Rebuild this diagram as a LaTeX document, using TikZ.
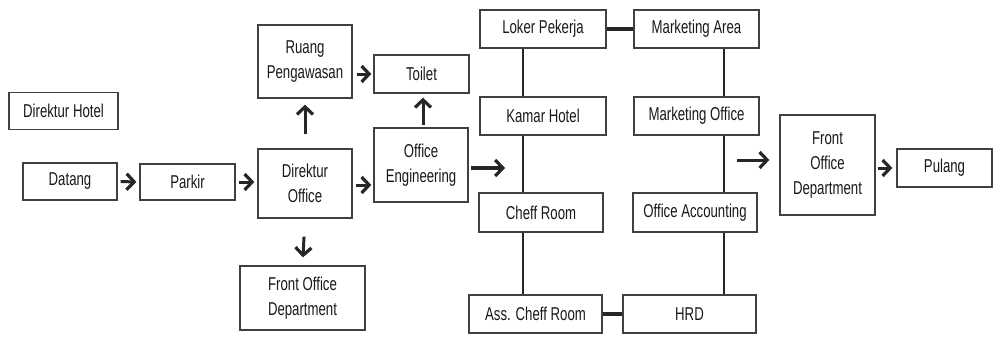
\documentclass[tikz,border=0pt]{standalone}
\usepackage{fontspec}
\setmainfont[FakeStretch=0.71]{Liberation Sans}
\usetikzlibrary{arrows.meta}

\begin{document}
\begin{tikzpicture}[x=0.5pt,y=-0.5pt]
		\tikzstyle{every node}=[font=\fontsize{9.3}{12.5}\selectfont, text=black!90]
		\tikzstyle{room}=[draw=black!75, line width=0.65pt, fill=white, align=center, inner sep=0pt]
		\tikzstyle{flow}=[-{Straight Barb[length=3.8pt,width=8pt,line width=1.6pt]}, line width=1.5pt, color=black!85]
		\tikzstyle{link}=[line width=0.9pt, color=black!85]
		\tikzstyle{joint}=[line width=1.8pt, color=black!85]

\useasboundingbox (0,0) rectangle (994,338);

% left part
\node[room,minimum width=54.5pt,minimum height=18.5pt] at (63.5,111) (dirhotel) {Direktur Hotel};
\node[room,minimum width=47pt,minimum height=18.5pt] at (70,181.5) (datang) {Datang};
\node[room,minimum width=47.5pt,minimum height=18pt] at (187.5,182) (parkir) {Parkir};
\node[room,minimum width=47pt,minimum height=34.5pt] at (305,183.5) (diroffice) {Direktur\\Office};
\node[room,minimum width=62.5pt,minimum height=32pt] at (302.5,298) (fodbottom) {Front Office\\Department};
\node[room,minimum width=47pt,minimum height=36.5pt] at (305,61.5) (ruang) {Ruang\\Pengawasan};
\node[room,minimum width=47.5pt,minimum height=19pt] at (421.5,74) (toilet) {Toilet};
\node[room,minimum width=47pt,minimum height=37pt] at (421,165) (offeng) {Office\\Engineering};

% the two columns
\coordinate (spineL) at (523,168);
\coordinate (spineR) at (724,160);

\node[room,minimum width=63pt,minimum height=19pt] at (543,29) (loker) {Loker Pekerja};
\node[room,minimum width=62.5pt,minimum height=19pt] at (696.5,29) (mktarea) {Marketing Area};
\node[room,minimum width=63pt,minimum height=19pt] at (543,116) (kamar) {Kamar Hotel};
\node[room,minimum width=62.5pt,minimum height=19pt] at (696.5,116) (mktoffice) {Marketing Office};
\node[room,minimum width=62pt,minimum height=19.5pt] at (541,212.5) (cheff) {Cheff Room};
\node[room,minimum width=62pt,minimum height=19.5pt] at (695,212.5) (accounting) {Office Accounting};
\node[room,minimum width=66.5pt,minimum height=19pt] at (535.5,314) (asscheff) {Ass. Cheff Room};
\node[room,minimum width=66.5pt,minimum height=19pt] at (689.5,314) (hrd) {HRD};

% right part
\node[room,minimum width=47.5pt,minimum height=50pt] at (827.5,165) (fodright) {Front\\Office\\Department};
\node[room,minimum width=47.5pt,minimum height=19pt] at (944.5,168) (pulang) {Pulang};

\draw[link] (loker.south -| spineL) -- (kamar.north -| spineL);
\draw[link] (kamar.south -| spineL) -- (cheff.north -| spineL);
\draw[link] (cheff.south -| spineL) -- (asscheff.north -| spineL);
\draw[link] (mktarea.south -| spineR) -- (mktoffice.north -| spineR);
\draw[link] (mktoffice.south -| spineR) -- (accounting.north -| spineR);
\draw[link] (accounting.south -| spineR) -- (hrd.north -| spineR);
\draw[joint] (loker.east) -- (mktarea.west);
\draw[joint] (asscheff.east) -- (hrd.west);

\draw[flow,shorten <=1.5pt,shorten >=1.5pt] (datang.east) -- (parkir.west);
\draw[flow,shorten <=1.5pt,shorten >=1.5pt] (parkir.east) -- (diroffice.west |- parkir.east);
\draw[flow,shorten <=1.5pt,shorten >=1pt] ([yshift=-0.75pt]diroffice.east) -- ([yshift=-0.75pt]diroffice.east -| offeng.west);
\draw[flow,shorten <=7pt,shorten >=3pt] (diroffice.north) -- (ruang.south);
\draw[flow,shorten <=9pt,shorten >=4pt] (diroffice.south) -- (fodbottom.north);
\draw[flow,shorten <=2pt,shorten >=1pt] (ruang.east |- toilet.west) -- (toilet.west);
\draw[flow,shorten <=1pt,shorten >=2pt] (offeng.north -| 423,0) -- (toilet.south -| 423,0);
\draw[flow,line width=1.8pt,shorten <=1pt,shorten >=9pt] (offeng.east |- spineL) -- (spineL);
\draw[flow,shorten <=6.5pt,shorten >=5pt] (spineR) -- (fodright.west |- spineR);
\draw[flow,shorten <=1pt,shorten >=2pt] (fodright.east |- pulang.west) -- (pulang.west);

\end{tikzpicture}
\end{document}
